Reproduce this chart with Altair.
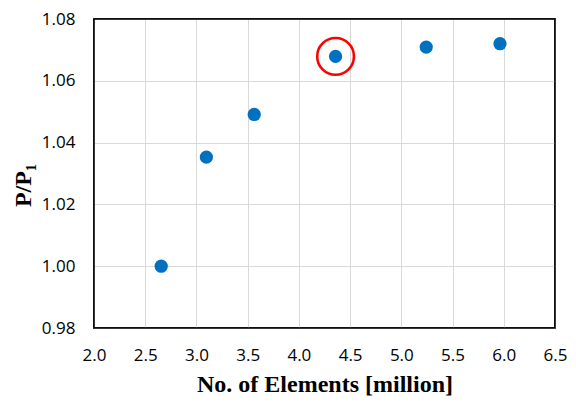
import altair as alt
import pandas as pd

elements = [2.656, 3.097, 3.564, 4.358, 5.243, 5.963]
ratio = [1.000, 1.0353, 1.0491, 1.0679, 1.0709, 1.072]
highlight_x = [4.358]
highlight_y = [1.0679]
x_ticks = [2.0, 2.5, 3.0, 3.5, 4.0, 4.5, 5.0, 5.5, 6.0, 6.5]
y_ticks = [0.98, 1.00, 1.02, 1.04, 1.06, 1.08]

W, H = 461, 309

df = pd.DataFrame({"x": elements, "y": ratio})
hl = pd.DataFrame({"x": highlight_x, "y": highlight_y})

xscale = alt.Scale(domain=[2.0, 6.5], nice=False, zero=False)
yscale = alt.Scale(domain=[0.98, 1.08], nice=False, zero=False)

xaxis = alt.Axis(values=x_ticks, format=".1f", title="No. of Elements [million]",
                 labelFont="Open Sans", labelFontSize=17, labelColor="#000000",
                 labelPadding=19, ticks=False, domain=False, labelFlush=False,
                 titleFont="Liberation Serif", titleFontSize=24, titleFontWeight="bold",
                 titleColor="#000000", titlePadding=9,
                 gridColor="#d9d9d9", gridWidth=1)
yaxis = alt.Axis(values=y_ticks, format=".2f", title="P/P₁",
                 labelFont="Open Sans", labelFontSize=17, labelColor="#000000",
                 labelPadding=19, ticks=False, domain=False, labelFlush=False,
                 titleFont="Liberation Serif", titleFontSize=24, titleFontWeight="bold",
                 titleColor="#000000", titlePadding=6, titleY=166,
                 gridColor="#d9d9d9", gridWidth=1)

points = alt.Chart(df).mark_circle(size=175, color="#0070C0", opacity=1).encode(
    x=alt.X("x:Q", scale=xscale, axis=xaxis),
    y=alt.Y("y:Q", scale=yscale, axis=yaxis),
)

ring = alt.Chart(hl).mark_point(shape="circle", size=1350, filled=False,
                                 color="#FF0000", strokeWidth=2.6, opacity=1).encode(
    x=alt.X("x:Q", scale=xscale),
    y=alt.Y("y:Q", scale=yscale),
)

frame = alt.Chart(hl).mark_rect(fillOpacity=0, stroke="#000000", strokeWidth=1.5).encode(
    x=alt.value(0), x2=alt.value(W), y=alt.value(0), y2=alt.value(H)
)

chart = (frame + points + ring).properties(
    width=W, height=H,
    autosize=alt.AutoSizeParams(type="none"),
    padding={"left": 86, "top": 11, "right": 13, "bottom": 70},
).configure(background="#ffffff").configure_view(stroke="#000000", strokeWidth=1.5)

chart.save("out.html", embed_options={"renderer": "svg", "actions": False})
